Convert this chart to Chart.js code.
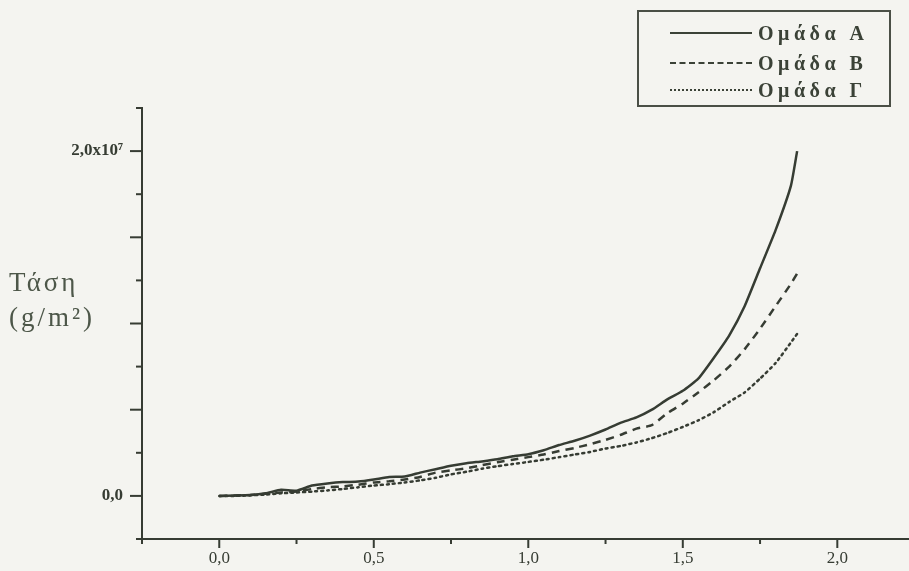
<!DOCTYPE html>
<html>
<head>
<meta charset="utf-8">
<script src="https://cdn.jsdelivr.net/npm/chart.js@4"></script>
<style>
  html, body { margin: 0; padding: 0; background: #f4f4f0; }
  #wrap { position: relative; width: 909px; height: 571px; }
  #yTitle {
    position: absolute; left: 9px; top: 265px;
    font-family: "Liberation Serif", serif; font-size: 27px; line-height: 35px;
    letter-spacing: 3px; color: #4d5749;
  }
  #legend {
    position: absolute; left: 637px; top: 10px; width: 250px; height: 93px;
    border: 2px solid #4a4f46; box-sizing: content-box;
    font-family: "Liberation Serif", serif; font-size: 20px; font-weight: bold; color: #3b4237;
  }
  .row { position: absolute; left: 0; height: 24px; display: flex; align-items: center; }
  .sample { width: 82px; margin-left: 31px; margin-right: 6px; border-top: 2px solid #3b4237; }
  .row span { letter-spacing: 4.5px; }
</style>
</head>
<body>
<div id="wrap">
  <canvas id="chart" width="909" height="571"></canvas>
  <div id="yTitle">Τάση<br>(g/m²)</div>
  <div id="legend"></div>
</div>
<script>
// Data
const seriesLabels = ['Ομάδα A', 'Ομάδα B', 'Ομάδα Γ'];
const xValues = [0, 0.05, 0.1, 0.15, 0.2, 0.25, 0.3, 0.35, 0.4, 0.45, 0.5, 0.55, 0.6, 0.65, 0.7,
  0.75, 0.8, 0.85, 0.9, 0.95, 1.0, 1.05, 1.1, 1.15, 1.2, 1.25, 1.3, 1.35, 1.4, 1.45, 1.5,
  1.55, 1.6, 1.65, 1.7, 1.75, 1.8, 1.85, 1.87];
const groupA = [0, 0.02e6, 0.05e6, 0.15e6, 0.35e6, 0.3e6, 0.6e6, 0.72e6, 0.8e6, 0.83e6, 0.95e6,
  1.1e6, 1.12e6, 1.35e6, 1.55e6, 1.75e6, 1.9e6, 2.0e6, 2.12e6, 2.3e6, 2.42e6, 2.65e6, 2.95e6,
  3.2e6, 3.5e6, 3.85e6, 4.25e6, 4.55e6, 5.0e6, 5.6e6, 6.1e6, 6.8e6, 8.0e6, 9.3e6, 1.1e7,
  1.32e7, 1.54e7, 1.8e7, 2.0e7];
const groupB = [0, 0.02e6, 0.05e6, 0.12e6, 0.2e6, 0.25e6, 0.4e6, 0.5e6, 0.55e6, 0.65e6, 0.78e6,
  0.85e6, 0.95e6, 1.1e6, 1.35e6, 1.48e6, 1.6e6, 1.78e6, 1.95e6, 2.1e6, 2.25e6, 2.4e6, 2.6e6,
  2.78e6, 3.0e6, 3.25e6, 3.55e6, 3.9e6, 4.1e6, 4.8e6, 5.35e6, 6.0e6, 6.7e6, 7.5e6, 8.5e6,
  9.7e6, 1.1e7, 1.23e7, 1.29e7];
const groupC = [0, 0, 0.03e6, 0.08e6, 0.15e6, 0.2e6, 0.25e6, 0.32e6, 0.4e6, 0.5e6, 0.6e6,
  0.68e6, 0.78e6, 0.9e6, 1.05e6, 1.25e6, 1.4e6, 1.58e6, 1.72e6, 1.85e6, 1.97e6, 2.1e6, 2.25e6,
  2.4e6, 2.55e6, 2.75e6, 2.9e6, 3.1e6, 3.35e6, 3.65e6, 4.0e6, 4.38e6, 4.85e6, 5.45e6, 6.0e6,
  6.8e6, 7.7e6, 8.9e6, 9.4e6];
const yLabelValues = [0, 2e7];
const yLabelTexts = ['0,0', '2,0x10⁷'];

const ink = '#363c33';
const dashes = [[], [8, 6], [2, 4]];

const series = [groupA, groupB, groupC];

// Legend as HTML
const legend = document.getElementById('legend');
const sampleStyles = ['solid', 'dashed', 'dotted'];
const rowTops = [9, 39, 66];
seriesLabels.forEach((lab, i) => {
    const row = document.createElement('div');
    row.className = 'row';
    row.style.top = rowTops[i] + 'px';
    const s = document.createElement('div');
    s.className = 'sample';
    s.style.borderTopStyle = sampleStyles[i];
    const t = document.createElement('span');
    t.textContent = lab;
    row.appendChild(s);
    row.appendChild(t);
    legend.appendChild(row);
});

// Tick marks: long on labelled steps, short in between
const tickMarks = {
    id: 'tickMarks',
    afterDraw(chart) {
        const ctx = chart.ctx;
        const {x, y} = chart.scales;
        ctx.save();
        ctx.strokeStyle = ink;
        ctx.lineWidth = 2;
        x.ticks.forEach(t => {
            const px = x.getPixelForValue(t.value);
            const major = Math.abs(t.value * 2 - Math.round(t.value * 2)) < 1e-6;
            ctx.beginPath();
            ctx.moveTo(px, x.top);
            ctx.lineTo(px, x.top + (major ? 9 : 5));
            ctx.stroke();
        });
        y.ticks.forEach(t => {
            const py = y.getPixelForValue(t.value);
            const major = Math.abs(t.value / 5e6 - Math.round(t.value / 5e6)) < 1e-6;
            ctx.beginPath();
            ctx.moveTo(y.right, py);
            ctx.lineTo(y.right - (major ? 12 : 6), py);
            ctx.stroke();
        });
        ctx.restore();
    }
};

new Chart(document.getElementById('chart'), {
    type: 'line',
    data: {
        datasets: series.map((vals, i) => ({
            label: seriesLabels[i],
            data: xValues.map((xv, j) => ({x: xv, y: vals[j]})),
            borderColor: ink,
            borderWidth: 2.5,
            borderDash: dashes[i],
            borderCapStyle: i === 2 ? 'round' : 'butt',
            pointRadius: 0,
            tension: 0.15,
            fill: false
        }))
    },
    options: {
        responsive: false,
        animation: false,
        layout: { padding: { top: 108, right: 0, left: 0, bottom: 0 } },
        plugins: { legend: { display: false }, tooltip: { enabled: false } },
        scales: {
            x: {
                type: 'linear',
                min: -0.25,
                max: 2.232,
                afterFit(scale) { scale.height = 32; },
                border: { color: ink, width: 2 },
                grid: { drawOnChartArea: false, drawTicks: false },
                ticks: {
                    stepSize: 0.25,
                    includeBounds: false,
                    padding: 9,
                    autoSkip: false,
                    maxRotation: 0,
                    color: ink,
                    font: { family: 'Liberation Serif', size: 17 },
                    callback: v => (v >= 0 && Math.abs(v * 2 - Math.round(v * 2)) < 1e-6)
                        ? v.toFixed(1).replace('.', ',') : ''
                }
            },
            y: {
                min: -2.5e6,
                max: 2.25e7,
                afterFit(scale) { scale.width = 142; },
                border: { color: ink, width: 2 },
                grid: { drawOnChartArea: false, drawTicks: false },
                ticks: {
                    stepSize: 2.5e6,
                    padding: 19,
                    autoSkip: false,
                    color: ink,
                    font: { family: 'Liberation Serif', size: 17, weight: 'bold' },
                    callback: v => {
                        const k = yLabelValues.indexOf(v);
                        return k >= 0 ? yLabelTexts[k] : '';
                    }
                }
            }
        }
    },
    plugins: [tickMarks]
});
</script>
</body>
</html>
